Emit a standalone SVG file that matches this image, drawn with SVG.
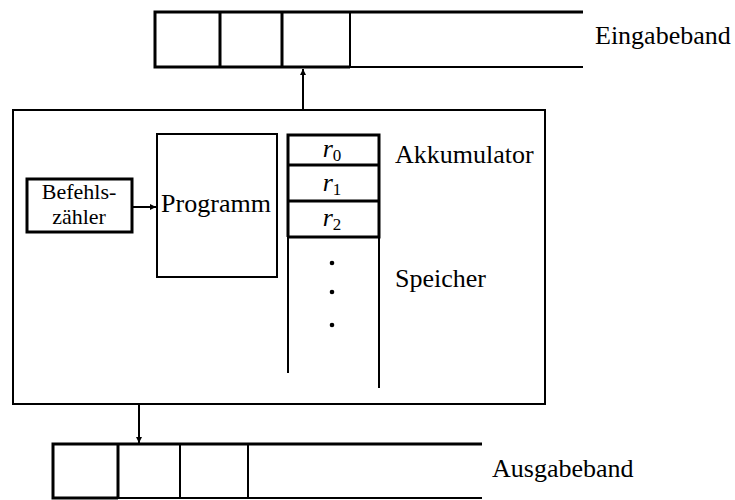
<svg xmlns="http://www.w3.org/2000/svg" width="735" height="500" viewBox="0 0 735 500">
<style>
text{font-family:"Liberation Serif","Times New Roman",serif;font-size:26px;fill:#000}
.bz{font-size:22px}
.b{fill:none;stroke:#000;stroke-width:2}
.t{fill:none;stroke:#000;stroke-width:3}
.c{stroke:#000;stroke-width:2;fill:none}
.r{font-style:italic}
.s{font-size:17px;font-style:normal}
</style>
<defs>
<marker id="ah" viewBox="0 0 10 10" refX="10" refY="5" markerWidth="6" markerHeight="6" markerUnits="userSpaceOnUse" orient="auto"><path d="M0,0L10,5L0,10z" fill="#000"/></marker>
</defs>
<g id="eingabeband">
<path class="t" d="M583,12H155V67H350"/>
<path class="b" d="M350,67H583"/>
<path class="t" d="M220,12V67M282,12V67"/>
<path class="b" d="M350,12V67"/>
<text x="595" y="44">Eingabeband</text>
</g>
<g id="rechner">
<rect class="b" x="13" y="110" width="532" height="294"/>
</g>
<g id="befehlszaehler">
<rect class="t" x="27" y="179" width="105" height="53"/>
<text class="bz" x="79" y="199" text-anchor="middle">Befehls-</text>
<text class="bz" x="79" y="224" text-anchor="middle">zähler</text>
</g>
<g id="programm">
<rect class="b" x="157" y="134" width="120" height="143"/>
<text x="216" y="212" text-anchor="middle">Programm</text>
</g>
<g id="speicher">
<path class="t" d="M288,237V135H379V237H288M288,165H379M288,201H379"/>
<path class="b" d="M288,237V373M379,237V388"/>
<text x="332" y="157" text-anchor="middle" class="r">r<tspan class="s" dy="4">0</tspan></text>
<text x="332" y="191" text-anchor="middle" class="r">r<tspan class="s" dy="4">1</tspan></text>
<text x="332" y="226" text-anchor="middle" class="r">r<tspan class="s" dy="4">2</tspan></text>
<circle cx="332" cy="263" r="2.3"/>
<circle cx="332" cy="292" r="2.3"/>
<circle cx="332" cy="325" r="2.3"/>
<text x="395" y="163">Akkumulator</text>
<text x="395" y="287">Speicher</text>
</g>
<g id="ausgabeband">
<path class="t" d="M482,444H53V498H118"/>
<path class="b" d="M118,498H482"/>
<path class="t" d="M118,444V498"/>
<path class="b" d="M180,444V498M248,444V498"/>
<text x="492" y="477">Ausgabeband</text>
</g>
<g id="connectors">
<path class="c" d="M303,110V69" marker-end="url(#ah)"/>
<path class="c" d="M132,207H156" marker-end="url(#ah)"/>
<path class="c" d="M139,404V443" marker-end="url(#ah)"/>
</g>
</svg>
